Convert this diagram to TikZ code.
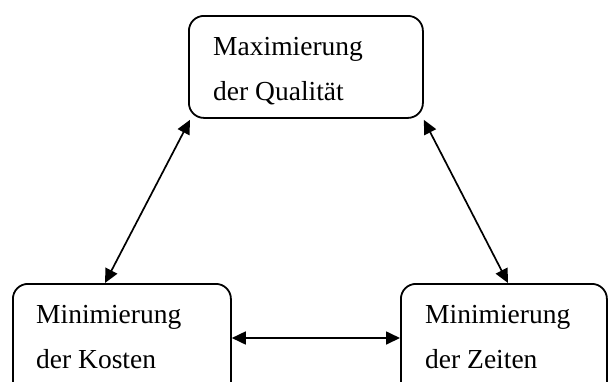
\documentclass[tikz,border=0pt]{standalone}
\usepackage{fontspec}
\setmainfont{Liberation Serif}
\usetikzlibrary{arrows.meta,calc}
\begin{document}
\begin{tikzpicture}[x=1pt,y=-1pt,
  goalbox/.style={draw=black,line width=1.8pt,rounded corners=15pt,
    minimum width=#1,anchor=north west,inner sep=0pt},
  goaltext/.style={anchor=base west,inner sep=0pt,font=\fontsize{27.5}{28}\selectfont},
  link/.style={line width=1.7pt,{Triangle[length=14pt,width=13pt]}-{Triangle[length=14pt,width=13pt]}}]
\useasboundingbox (0,0) rectangle (612,381);
\clip (0,0) rectangle (612,381);
% goal boxes
\node[goalbox=234pt,minimum height=102pt] (qual) at (188,15) {};
\node[goalbox=218pt,minimum height=115pt] (cost) at (12,283) {};
\node[goalbox=206pt,minimum height=115pt] (time) at (400,283) {};
% labels
\node[goaltext] (q1) at (213,55) {Maximierung};
\node[goaltext] (q2) at (213,100) {der Qualität};
\node[goaltext] (c1) at (36,323) {Minimierung};
\node[goaltext] (c2) at (36,368) {der Kosten};
\node[goaltext] (t1) at (425,323) {Minimierung};
\node[goaltext] (t2) at (425,368) {der Zeiten};
% connector end points
\coordinate (qsw) at ($(qual.south west)+(2,1)$);
\coordinate (qse) at ($(qual.south east)+(0,1)$);
\coordinate (cn) at ($(cost.north west)+(93,0)$);
\coordinate (tn) at ($(time.north west)+(108,0)$);
\coordinate (ce) at ($(cost.north east)+(0,55)$);
\coordinate (tw) at ($(time.north west)+(0,55)$);
% connectors
\draw[link] (qsw) -- (cn);
\draw[link] (qse) -- (tn);
\draw[link] (ce) -- (tw);
\end{tikzpicture}
\end{document}
